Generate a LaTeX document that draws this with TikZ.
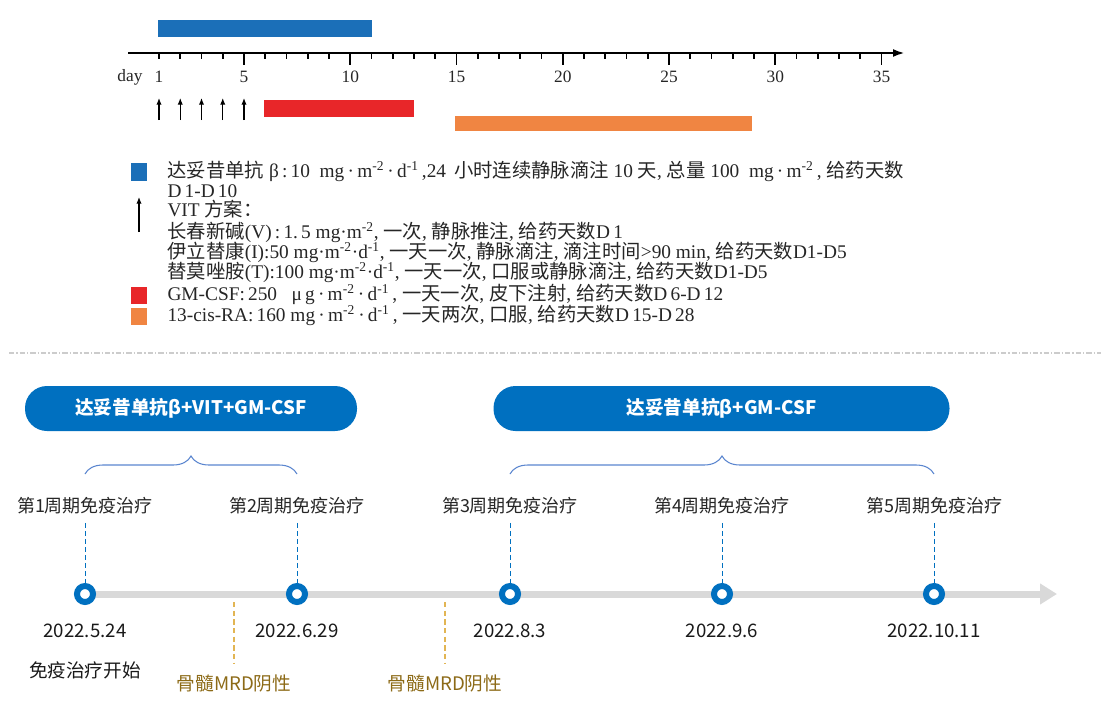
\documentclass[tikz,border=0pt]{standalone}
\usepackage{fontspec}
\setmainfont{Liberation Serif}
\newfontfamily\cjk{Noto Sans CJK SC}
\usepackage{xcolor}
\usetikzlibrary{arrows.meta}
\usetikzlibrary{decorations.pathreplacing}
\definecolor{barblue}{HTML}{1B6FB8}
\definecolor{barred}{HTML}{E82629}
\definecolor{barorange}{HTML}{F08542}
\definecolor{pillblue}{HTML}{0070C0}
\definecolor{linegray}{HTML}{D9D9D9}
\definecolor{bracecol}{HTML}{5B86CF}
\definecolor{goldline}{HTML}{E2B553}
\definecolor{goldtext}{HTML}{8C6A17}
\newcommand{\zh}[1]{{\cjk #1}}
\newcommand{\cd}{\,·\,}

\begin{document}
\begin{tikzpicture}[x=0.75pt, y=-0.75pt, thick,
	ticklab/.style = {font=\fontsize{13}{15}\selectfont, text=black!85, inner sep=0pt},
	legtext/.style = {anchor=west, inner sep=0pt, font=\fontsize{14.5}{16}\selectfont, text=black!85},
	pill/.style = {fill=pillblue, rounded corners=16.5pt, minimum height=33.75pt, text=white, font=\cjk\bfseries\fontsize{14}{16}\selectfont},
	brace/.style = {decorate, decoration={brace, amplitude=13.5pt}, draw=bracecol, line width=0.8pt},
	cyc/.style = {font=\cjk\fontsize{13.5}{16}\selectfont, text=black!85, inner sep=2pt},
	date/.style = {font=\cjk\fontsize{14}{16}\selectfont, text=black!90, inner sep=2pt},
	ring/.style = {circle, draw=pillblue, fill=white, line width=4.5pt, minimum size=12pt, inner sep=0pt},
	cycline/.style = {draw=pillblue, line width=0.7pt, dash pattern=on 4pt off 2pt, shorten <=4pt},
	tline/.style = {draw=linegray, line width=5.25pt, -{Triangle[length=12.75pt, width=15pt]}},
	mrd/.style = {font=\cjk\fontsize{14}{16}\selectfont, text=goldtext, inner sep=2pt},
	mrdline/.style = {draw=goldline, line width=0.9pt, dash pattern=on 4pt off 2.5pt, shorten >=6pt}]
	\useasboundingbox (0,0) rectangle (1101,704);

	% day axis
	\fill[barblue] (158,20) rectangle (371.5,37);
	\draw[line width=2pt, -{Latex[length=9pt, width=6pt]}] (128,53) -- (905,53);
	\foreach \d in {1,...,35}
		\draw[line width=1.2pt] ({159+(\d-1)*21.25},53) -- ++(0,6);
	\foreach \d in {5,10,...,35}
		\draw[line width=1.2pt] ({159+(\d-1)*21.25},53) -- ++(0,12);
	\node[ticklab] (day) at (130,77) {day};
	\foreach \d in {1,5,10,...,35}
		\node[ticklab] (t\d) at ({159+(\d-1)*21.25},77) {\d};
	\foreach \d in {1,...,5}
		\draw[line width=0.9pt, -{Latex[length=5pt, width=4pt]}] ({159+(\d-1)*21.25},120) -- ++(0,-22);
	\fill[barred] (264,100) rectangle (414,117);
	\fill[barorange] (455,116) rectangle (752,131);

	% legend
	\fill[barblue] (131,163) rectangle (147,181);
	\draw[line width=0.9pt, -{Latex[length=5pt, width=4pt]}] (139,232) -- (139,197);
	\fill[barred] (131,287) rectangle (147,304);
	\fill[barorange] (131,308) rectangle (147,325);
	\node[legtext] (leg1) at (167,171) {\zh{达妥昔单抗} β\,:\,10\ \ mg\cd m\textsuperscript{-2}\cd d\textsuperscript{-1}\,,24\, \zh{小时连续静脉滴注} 10 \zh{天}, \zh{总量} 100\ \ mg\cd m\textsuperscript{-2}\,, \zh{给药天数}};
	\node[legtext] (leg2) at (167,191) {D\,1-D\,10};
	\node[legtext] (leg3) at (167,209.5) {VIT \zh{方案：}};
	\node[legtext] (leg4) at (167,232) {\zh{长春新碱}(V)\,:\,1.\,5 mg·m\textsuperscript{-2}, \zh{一次}, \zh{静脉推注}, \zh{给药天数}D\,1};
	\node[legtext] (leg5) at (167,252) {\zh{伊立替康}(I):50 mg·m\textsuperscript{-2}·d\textsuperscript{-1}, \zh{一天一次}, \zh{静脉滴注}, \zh{滴注时间}>90 min, \zh{给药天数}D1-D5};
	\node[legtext] (leg6) at (167,272.5) {\zh{替莫唑胺}(T):100 mg·m\textsuperscript{-2}·d\textsuperscript{-1}, \zh{一天一次}, \zh{口服或静脉滴注}, \zh{给药天数}D1-D5};
	\node[legtext] (leg7) at (167,294) {GM-CSF:\,250\ \ \ μ\,g\cd m\textsuperscript{-2}\cd d\textsuperscript{-1}\,, \zh{一天一次}, \zh{皮下注射}, \zh{给药天数}D\,6-D\,12};
	\node[legtext] (leg8) at (167,315) {13-cis-RA:\,160\ mg\cd m\textsuperscript{-2}\cd d\textsuperscript{-1}\,, \zh{一天两次}, \zh{口服}, \zh{给药天数}D\,15-D\,28};

	% separator
	\draw[gray!40, line width=0.9pt, dash pattern=on 4pt off 1.5pt on 1pt off 1.5pt] (9,353) -- (1101,353);

	% regimens
	\node[pill, minimum width=249pt] (pillA) at (191,408.5) {达妥昔单抗β+VIT+GM-CSF};
	\node[pill, minimum width=342pt] (pillB) at (721.5,408.5) {达妥昔单抗β+GM-CSF};
	\coordinate (bA1) at (85,474);
	\coordinate (bA2) at (297,474);
	\coordinate (bB1) at (510,474);
	\coordinate (bB2) at (934,474);
	\draw[brace] (bA1) -- (bA2);
	\draw[brace] (bB1) -- (bB2);

	% timeline
	\coordinate (t0) at (85,594);
	\coordinate (t1) at (1057,594);
	\draw[tline] (t0) -- (t1);
	\foreach \x/\n/\dt in {85/1/2022.5.24, 297/2/2022.6.29, 510/3/2022.8.3, 722/4/2022.9.6, 934/5/2022.10.11} {
		\node[cyc] (cyc\n) at (\x,506) {第{\n}周期免疫治疗};
		\node[ring] (ring\n) at (\x,594) {};
		\node[date] (date\n) at (\x,631) {\dt};
		\draw[cycline] (cyc\n) -- (ring\n);
	}
	\node[date] (start) at (85,670) {免疫治疗开始};

	% MRD
	\coordinate (m1) at (234,602);
	\coordinate (m2) at (445,602);
	\node[mrd] (mrd1) at (234,683) {骨髓MRD阴性};
	\node[mrd] (mrd2) at (445,683) {骨髓MRD阴性};
	\draw[mrdline] (m1) -- (mrd1);
	\draw[mrdline] (m2) -- (mrd2);
\end{tikzpicture}
\end{document}
